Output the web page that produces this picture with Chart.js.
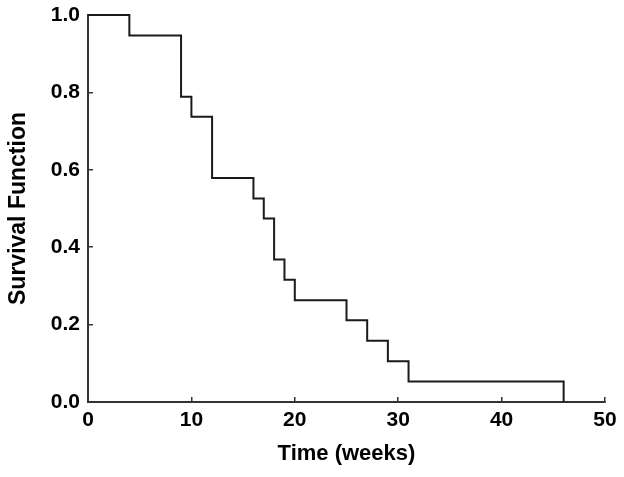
<!DOCTYPE html>
<html>
<head>
<meta charset="utf-8">
<script src="https://cdn.jsdelivr.net/npm/chart.js@4"></script>
<style>
  body { margin: 0; background: #fff; }
</style>
</head>
<body>
<canvas id="survival" width="624" height="477"></canvas>
<script>
// Kaplan-Meier steps: time of each event and survival after it
var times = [0, 4, 9, 10, 12, 16, 17, 18, 19, 20, 25, 27, 29, 31, 46];
var survival = [1.0, 0.947, 0.789, 0.737, 0.579, 0.526, 0.474, 0.368, 0.316, 0.263, 0.211, 0.158, 0.105, 0.053, 0.0];
var xTicks = [0, 10, 20, 30, 40, 50];
var yTicks = [0.0, 0.2, 0.4, 0.6, 0.8, 1.0];

var points = times.map(function (t, i) { return { x: t, y: survival[i] }; });

var font = { family: 'Liberation Sans, Arial, sans-serif', weight: 'bold', size: 21 };
var xTitleFont = { family: 'Liberation Sans, Arial, sans-serif', weight: 'bold', size: 22 };
var yTitleFont = { family: 'Liberation Sans, Arial, sans-serif', weight: 'bold', size: 23 };

var ctx = document.getElementById('survival').getContext('2d');
var chart = new Chart(ctx, {
    type: 'line',
    data: {
        datasets: [{
            label: 'Survival',
            data: points,
            stepped: true,
            borderColor: '#1a1a1a',
            borderWidth: 2,
            pointRadius: 0,
            fill: false,
            clip: false
        }]
    },
    options: {
        responsive: false,
        animation: false,
        layout: { padding: { left: 5, right: 19, top: 15, bottom: 10 } },
        plugins: {
            legend: { display: false },
            tooltip: { enabled: false }
        },
        scales: {
            x: {
                type: 'linear',
                min: 0,
                max: 50,
                afterBuildTicks: function (scale) {
                    scale.ticks = xTicks.map(function (v) { return { value: v }; });
                },
                afterFit: function (scale) {
                    scale.height = 65;
                    scale.paddingLeft = 0;
                    scale.paddingRight = 0;
                },
                grid: { drawOnChartArea: false, tickLength: -5, color: '#333', lineWidth: 1.5 },
                border: { color: '#333', width: 2 },
                ticks: { color: '#000', font: font, padding: 11, maxRotation: 0 },
                title: { display: true, text: 'Time (weeks)', color: '#000', font: xTitleFont, padding: 0 }
            },
            y: {
                min: 0,
                max: 1,
                afterBuildTicks: function (scale) {
                    scale.ticks = yTicks.map(function (v) { return { value: v }; });
                },
                afterFit: function (scale) {
                    scale.width = 83;
                    scale.paddingTop = 0;
                    scale.paddingBottom = 0;
                },
                grid: { drawOnChartArea: false, tickLength: -5, color: '#333', lineWidth: 1.5 },
                border: { color: '#333', width: 2 },
                ticks: {
                    color: '#000',
                    font: font,
                    padding: 13,
                    callback: function (v) { return Number(v).toFixed(1); }
                },
                title: { display: true, text: 'Survival Function', color: '#000', font: yTitleFont, padding: 0 }
            }
        }
    }
});
</script>
</body>
</html>
